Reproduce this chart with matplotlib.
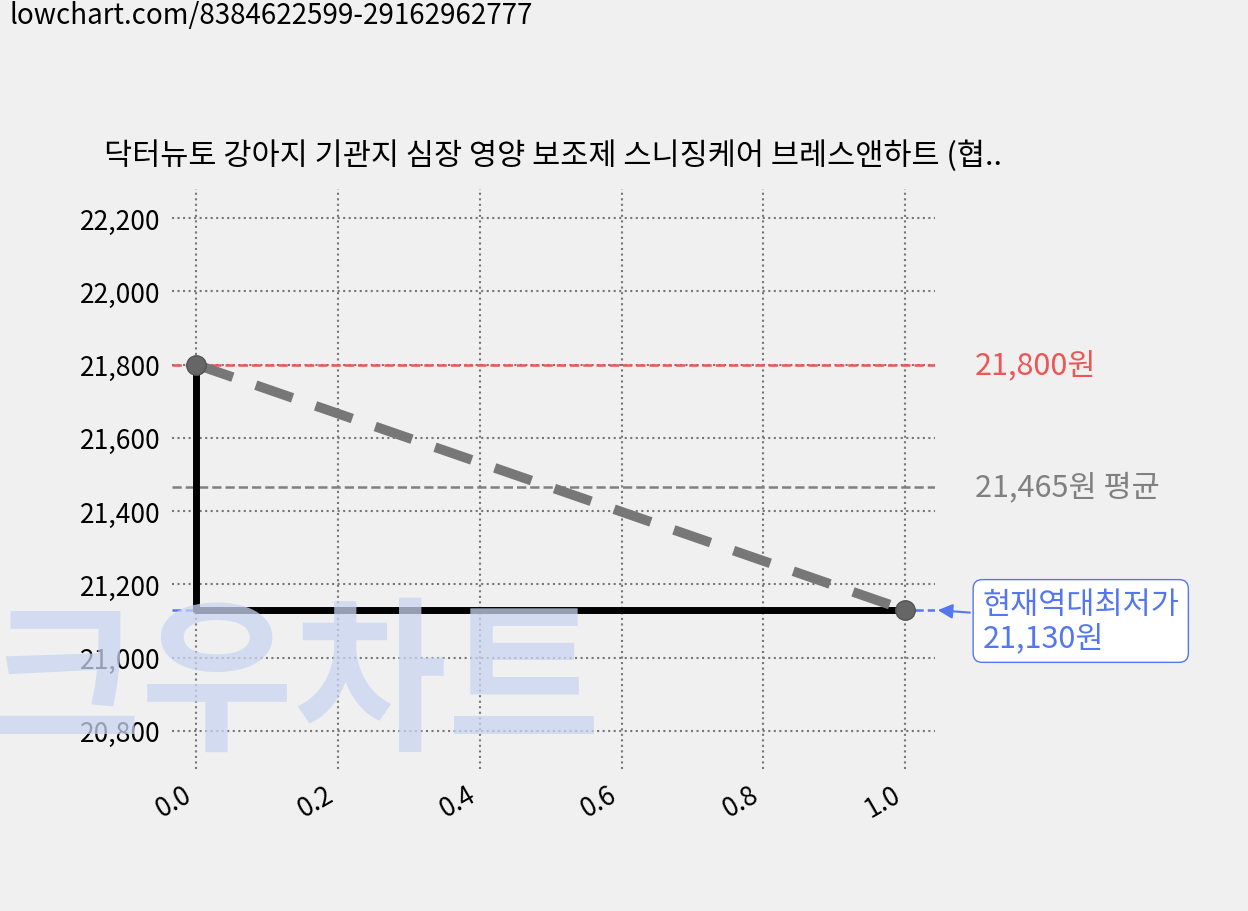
import matplotlib
matplotlib.use("Agg")
import matplotlib.pyplot as plt

plt.rcParams['font.family'] = ['Noto Sans CJK KR', 'DejaVu Sans']

title = "닥터뉴토 강아지 기관지 심장 영양 보조제 스니징케어 브레스앤하트 (협.."
xs = [0, 1]
prices = [21800, 21130]
max_price = 21800
avg_price = 21465
min_price = 21130
yticks = [20800, 21000, 21200, 21400, 21600, 21800, 22000, 22200]

fig = plt.figure(figsize=(12.48, 9.12), dpi=100, facecolor='#f0f0f0')
ax = fig.add_axes([172/1248, 1-770/912, (935-172)/1248, (770-190)/912])
ax.set_facecolor('#f0f0f0')
for s in ax.spines.values():
    s.set_visible(False)

fig.text(-0.01, 1-688/912, "크우차트", fontsize=120, color='#c8d4f0', alpha=0.75,
         fontweight='bold', va='center', ha='left', zorder=0)

ax.grid(True, linestyle=':', color='#777777', linewidth=1.5)
ax.set_axisbelow(True)

ax.axhline(max_price, color='#ee5555', linestyle='--', linewidth=1.8)
ax.axhline(avg_price, color='#808080', linestyle='--', linewidth=1.8)
ax.axhline(min_price, color='#5577ee', linestyle='--', linewidth=1.8)

ax.plot([xs[0], xs[0], xs[1]], [prices[0], prices[1], prices[1]], color='black', linewidth=5)
ax.plot(xs, prices, color='#777777', linestyle='--', linewidth=7, dashes=(4, 2.5),
        marker='o', markersize=14, markerfacecolor='#666666', markeredgecolor='#555555')

ax.set_xlim(-0.034, 1.042)
ax.set_ylim(20696, 22279)
ax.set_yticks(yticks)
ax.set_yticklabels([f"{v:,}" for v in yticks], fontsize=19)
ax.set_xticks([0, 0.2, 0.4, 0.6, 0.8, 1.0])
ax.set_xticklabels(["0.0", "0.2", "0.4", "0.6", "0.8", "1.0"], fontsize=19, rotation=30, ha='right')
ax.tick_params(length=0, pad=8)

ax.text(1.052, max_price, f"{max_price:,}원", color='#ee5555', fontsize=22, va='center',
        transform=ax.get_yaxis_transform())
ax.text(1.052, avg_price, f"{avg_price:,}원 평균", color='#808080', fontsize=22, va='center',
        transform=ax.get_yaxis_transform())
ax.annotate(f"현재역대최저가\n{min_price:,}원", xy=(1.0, min_price),
            xytext=(1.062, min_price - 30), xycoords=('axes fraction', 'data'),
            textcoords=('axes fraction', 'data'),
            color='#5577ee', fontsize=22, va='center', ha='left', linespacing=1.1,
            bbox=dict(boxstyle='round,pad=0.3', fc='white', ec='#5577ee'),
            arrowprops=dict(arrowstyle='-|>', color='#5577ee', lw=1.5))

ax.set_title(title, fontsize=22, pad=18)
fig.text(0.008, 0.983, "lowchart.com/8384622599-29162962777", fontsize=20, va='center')

fig.savefig("out.png", dpi=100, facecolor=fig.get_facecolor())
